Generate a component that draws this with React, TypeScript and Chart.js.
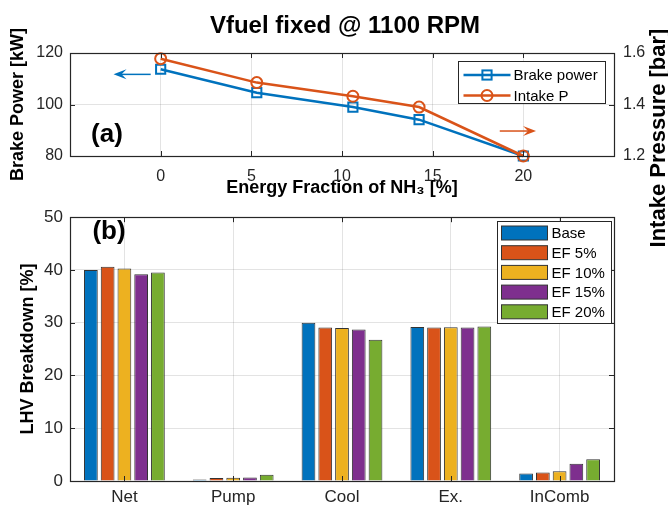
import React, { useEffect, useRef } from 'react';
import { Chart, registerables } from 'chart.js';

Chart.register(...registerables);

const FONT = '"Liberation Sans", Arial, Helvetica, sans-serif';
const AXIS_COLOR = '#262626';
const GRID_COLOR = 'rgba(38,38,38,0.13)';
const BLUE = '#0072BD';
const ORANGE = '#D95319';

const chartTitle = 'Vfuel fixed @ 1100 RPM';

// Panel (a)
const energyFraction = [0, 5.3, 10.6, 14.25, 20];
const brakePower = [113.7, 104.6, 99.0, 94.1, 80.0];
const intakePressure = [1.578, 1.485, 1.432, 1.39, 1.2];
const efTicks = [0, 5, 10, 15, 20];
const lineSeriesNames = ['Brake power', 'Intake P'];

// Panel (b)
const categories = ['Net', 'Pump', 'Cool', 'Ex.', 'InComb'];
const seriesNames = ['Base', 'EF 5%', 'EF 10%', 'EF 15%', 'EF 20%'];
const baseValues = [40.0, 0.3, 30.0, 29.2, 1.4];
const ef5Values = [40.6, 0.55, 29.1, 29.1, 1.6];
const ef10Values = [40.3, 0.6, 29.0, 29.15, 1.85];
const ef15Values = [39.2, 0.65, 28.7, 29.1, 3.25];
const ef20Values = [39.5, 1.2, 26.75, 29.3, 4.1];
const seriesColors = ['#0072BD', '#D95319', '#EDB120', '#7E2F8E', '#77AC30'];

function drawFrame(chart: any) {
  const { ctx, chartArea: a } = chart;
  const L = 5;
  ctx.save();
  ctx.strokeStyle = AXIS_COLOR;
  ctx.lineWidth = 1;
  ctx.beginPath();
  Object.values(chart.scales).forEach((s: any) => {
    s.ticks.forEach((_t: any, i: number) => {
      const p = Math.round(s.getPixelForTick(i)) + 0.5;
      if (s.isHorizontal()) {
        ctx.moveTo(p, a.bottom);
        ctx.lineTo(p, a.bottom - L);
        ctx.moveTo(p, a.top);
        ctx.lineTo(p, a.top + L);
      } else {
        ctx.moveTo(a.left, p);
        ctx.lineTo(a.left + L, p);
        ctx.moveTo(a.right, p);
        ctx.lineTo(a.right - L, p);
      }
    });
  });
  ctx.stroke();
  ctx.lineWidth = 1.2;
  ctx.strokeRect(
    Math.round(a.left) + 0.5,
    Math.round(a.top) + 0.5,
    Math.round(a.right - a.left),
    Math.round(a.bottom - a.top)
  );
  ctx.restore();
}

function drawArrow(ctx: any, x1: number, y: number, x2: number, color: string) {
  const dir = Math.sign(x2 - x1);
  ctx.save();
  ctx.strokeStyle = color;
  ctx.fillStyle = color;
  ctx.lineWidth = 1.5;
  ctx.beginPath();
  ctx.moveTo(x1, y);
  ctx.lineTo(x2 - dir * 6, y);
  ctx.stroke();
  ctx.beginPath();
  ctx.moveTo(x2, y);
  ctx.lineTo(x2 - dir * 13, y - 5);
  ctx.lineTo(x2 - dir * 8, y);
  ctx.lineTo(x2 - dir * 13, y + 5);
  ctx.closePath();
  ctx.fill();
  ctx.restore();
}

const topDecor = {
  id: 'topDecor',
  afterDatasetsDraw(chart: any) {
    drawFrame(chart);
  },
  afterDraw(chart: any) {
    const { ctx, chartArea: a, scales } = chart;
    ctx.save();
    // title
    ctx.fillStyle = '#000';
    ctx.textAlign = 'center';
    ctx.textBaseline = 'middle';
    ctx.font = `bold 24px ${FONT}`;
    ctx.fillText(chartTitle, (a.left + a.right) / 2 + 3, 26);
    // right axis label
    ctx.save();
    ctx.translate(659, 138);
    ctx.rotate(-Math.PI / 2);
    ctx.font = `bold 22px ${FONT}`;
    ctx.fillText('Intake Pressure [bar]', 0, 0);
    ctx.restore();
    // panel tag
    ctx.font = `bold 26px ${FONT}`;
    ctx.fillText('(a)', 107, 135);
    ctx.restore();

    // arrows (positioned in data units)
    const x = scales.x, y = scales.y, y1 = scales.y1;
    drawArrow(ctx, x.getPixelForValue(-0.55), y.getPixelForValue(111.7), x.getPixelForValue(-2.6), BLUE);
    drawArrow(ctx, x.getPixelForValue(18.7), y1.getPixelForValue(1.297), x.getPixelForValue(20.7), ORANGE);

    // legend
    const w = 147, h = 42;
    const bx = Math.round(a.right - 9 - w) + 0.5;
    const by = Math.round(a.top + 8) + 0.5;
    ctx.save();
    ctx.fillStyle = '#fff';
    ctx.fillRect(bx, by, w, h);
    ctx.strokeStyle = AXIS_COLOR;
    ctx.lineWidth = 1;
    ctx.strokeRect(bx, by, w, h);
    chart.data.datasets.forEach((ds: any, i: number) => {
      const cy = by + 13.5 + i * 20.5;
      ctx.strokeStyle = ds.borderColor;
      ctx.lineWidth = ds.borderWidth;
      ctx.beginPath();
      ctx.moveTo(bx + 5, cy);
      ctx.lineTo(bx + 52, cy);
      ctx.stroke();
      ctx.lineWidth = ds.pointBorderWidth;
      const mx = bx + 28.5;
      if (ds.pointStyle === 'rect') {
        const s = ds.pointRadius * Math.SQRT1_2;
        ctx.strokeRect(mx - s, cy - s, 2 * s, 2 * s);
      } else {
        ctx.beginPath();
        ctx.arc(mx, cy, ds.pointRadius, 0, Math.PI * 2);
        ctx.stroke();
      }
      ctx.fillStyle = '#000';
      ctx.font = `15px ${FONT}`;
      ctx.textAlign = 'left';
      ctx.textBaseline = 'middle';
      ctx.fillText(ds.label, bx + 55, cy + 1);
    });
    ctx.restore();
  },
};

const bottomDecor = {
  id: 'bottomDecor',
  afterDatasetsDraw(chart: any) {
    drawFrame(chart);
  },
  afterDraw(chart: any) {
    const { ctx, chartArea: a } = chart;
    ctx.save();
    ctx.fillStyle = '#000';
    ctx.textAlign = 'center';
    ctx.textBaseline = 'middle';
    ctx.font = `bold 26px ${FONT}`;
    ctx.fillText('(b)', 109, 32);
    // legend
    const w = 114, h = 102;
    const bx = Math.round(a.right - 3 - w) + 0.5;
    const by = Math.round(a.top + 4) + 0.5;
    ctx.fillStyle = '#fff';
    ctx.fillRect(bx, by, w, h);
    ctx.strokeStyle = AXIS_COLOR;
    ctx.lineWidth = 1;
    ctx.strokeRect(bx, by, w, h);
    chart.data.datasets.forEach((ds: any, i: number) => {
      const cy = by + 11.5 + i * 19.7;
      ctx.fillStyle = ds.backgroundColor;
      ctx.fillRect(bx + 4, cy - 7, 46, 14);
      ctx.strokeStyle = '#333';
      ctx.strokeRect(bx + 4, cy - 7, 46, 14);
      ctx.fillStyle = '#000';
      ctx.font = `15px ${FONT}`;
      ctx.textAlign = 'left';
      ctx.fillText(ds.label, bx + 54, cy + 1);
    });
    ctx.restore();
  },
};

export default function App() {
  const topRef = useRef<HTMLCanvasElement | null>(null);
  const botRef = useRef<HTMLCanvasElement | null>(null);

  useEffect(() => {
    const tickFont = { family: FONT, size: 16 };
    const titleFont = { family: FONT, size: 18, weight: 'bold' as const };

    const top = new Chart(topRef.current as HTMLCanvasElement, {
      type: 'line',
      data: {
        datasets: [
          {
            label: lineSeriesNames[0],
            data: energyFraction.map((x, i) => ({ x, y: brakePower[i] })),
            yAxisID: 'y',
            borderColor: BLUE,
            backgroundColor: BLUE,
            borderWidth: 2.5,
            pointStyle: 'rect',
            pointRadius: 6.5,
            pointBorderWidth: 2,
            pointBorderColor: BLUE,
            pointBackgroundColor: 'rgba(0,0,0,0)',
            clip: false,
            order: 1,
          },
          {
            label: lineSeriesNames[1],
            data: energyFraction.map((x, i) => ({ x, y: intakePressure[i] })),
            yAxisID: 'y1',
            borderColor: ORANGE,
            backgroundColor: ORANGE,
            borderWidth: 2.5,
            pointStyle: 'circle',
            pointRadius: 5.5,
            pointBorderWidth: 2,
            pointBorderColor: ORANGE,
            pointBackgroundColor: 'rgba(0,0,0,0)',
            clip: false,
            order: 0,
          },
        ] as any,
      },
      options: {
        responsive: false,
        animation: false,
        layout: { padding: { top: 53, left: 0, right: 0, bottom: 0 } },
        plugins: { legend: { display: false }, tooltip: { enabled: false }, title: { display: false } },
        scales: {
          x: {
            type: 'linear',
            min: -5,
            max: 25,
            afterBuildTicks: (s: any) => {
              s.ticks = efTicks.map((v) => ({ value: v }));
            },
            afterFit: (s: any) => {
              s.height = 114;
            },
            grid: { color: GRID_COLOR, drawTicks: false },
            border: { display: false },
            ticks: { padding: 11, color: AXIS_COLOR, font: tickFont },
            title: {
              display: true,
              text: 'Energy Fraction of NH₃ [%]',
              color: '#000',
              font: titleFont,
              padding: { top: 0, bottom: 71 },
            },
          },
          y: {
            position: 'left',
            min: 80,
            max: 120,
            afterFit: (s: any) => {
              s.width = 70;
            },
            grid: { color: GRID_COLOR, drawTicks: false },
            border: { display: false },
            ticks: { stepSize: 20, padding: 7, color: AXIS_COLOR, font: tickFont },
            title: {
              display: true,
              text: 'Brake Power [kW]',
              color: '#000',
              font: titleFont,
              padding: { top: 7, bottom: 0 },
            },
          },
          y1: {
            position: 'right',
            min: 1.2,
            max: 1.6,
            afterFit: (s: any) => {
              s.width = 54;
            },
            grid: { drawOnChartArea: false, drawTicks: false },
            border: { display: false },
            ticks: {
              stepSize: 0.2,
              padding: 9,
              color: AXIS_COLOR,
              font: tickFont,
              callback: (v: any) => Number(v).toFixed(1),
            },
          },
        },
      } as any,
      plugins: [topDecor],
    });

    const seriesValues = [baseValues, ef5Values, ef10Values, ef15Values, ef20Values];
    const bottom = new Chart(botRef.current as HTMLCanvasElement, {
      type: 'bar',
      data: {
        labels: categories,
        datasets: seriesValues.map((vals, i) => ({
          label: seriesNames[i],
          data: vals,
          backgroundColor: seriesColors[i],
          borderColor: '#333',
          borderWidth: 1,
          categoryPercentage: 0.77,
          barPercentage: 0.82,
        })),
      },
      options: {
        responsive: false,
        animation: false,
        layout: { padding: { top: 10, right: 54, left: 0, bottom: 0 } },
        plugins: { legend: { display: false }, tooltip: { enabled: false }, title: { display: false } },
        scales: {
          x: {
            afterFit: (s: any) => {
              s.height = 27;
            },
            grid: { offset: false, color: GRID_COLOR, drawTicks: false },
            border: { display: false },
            ticks: { padding: 6, color: AXIS_COLOR, font: { family: FONT, size: 17 } },
          },
          y: {
            min: 0,
            max: 50,
            afterFit: (s: any) => {
              s.width = 70;
            },
            grid: { color: GRID_COLOR, drawTicks: false },
            border: { display: false },
            ticks: { stepSize: 10, padding: 7, color: AXIS_COLOR, font: { family: FONT, size: 17 } },
            title: {
              display: true,
              text: 'LHV Breakdown [%]',
              color: '#000',
              font: titleFont,
              padding: { top: 17, bottom: 0 },
            },
          },
        },
      } as any,
      plugins: [bottomDecor],
    });

    return () => {
      top.destroy();
      bottom.destroy();
    };
  }, []);

  return (
    <div style={{ position: 'absolute', left: 0, top: 0, width: 668, height: 508, background: '#fff' }}>
      <canvas ref={topRef} width={668} height={270} style={{ position: 'absolute', left: 0, top: 0 }} />
      <canvas ref={botRef} width={668} height={308} style={{ position: 'absolute', left: 0, top: 200 }} />
    </div>
  );
}
